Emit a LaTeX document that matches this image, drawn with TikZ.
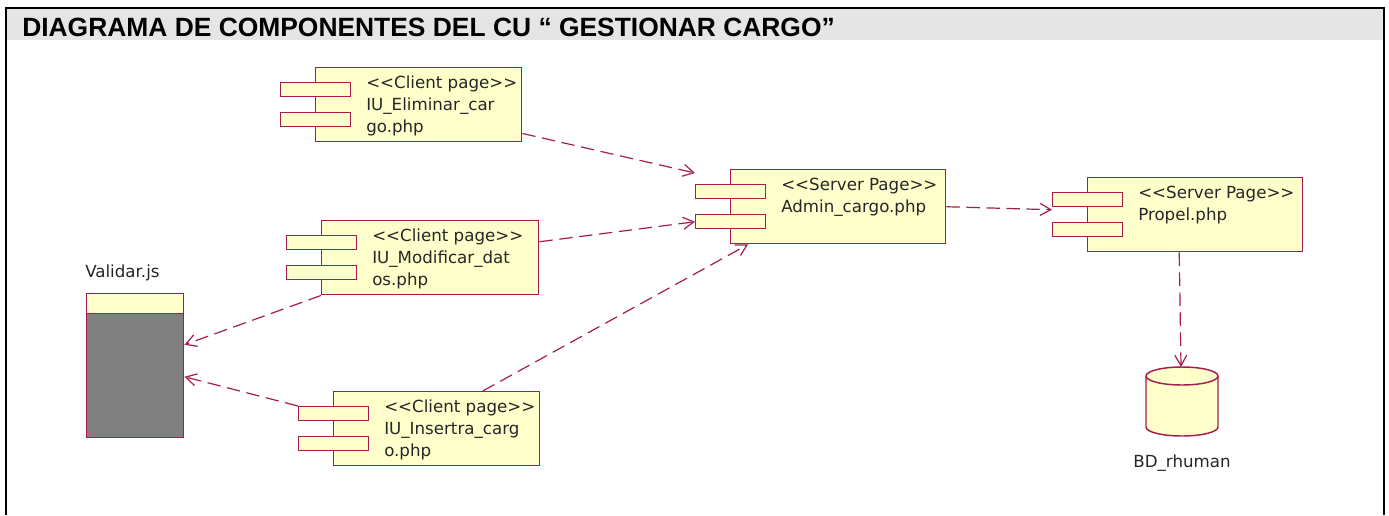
\documentclass[tikz,border=0pt]{standalone}
\usepackage{fontspec}
\setmainfont{Liberation Sans}
\newfontfamily\umlfont{DejaVu Sans}
\usetikzlibrary{arrows.meta,calc}
\definecolor{umlred}{HTML}{A61C4E}
\definecolor{umlfill}{HTML}{FFFFCC}
\definecolor{hdrgray}{HTML}{E5E5E5}
\definecolor{jsgray}{HTML}{808080}
\newcommand\umlcomp[5]{%
  \node[mainbox, minimum width=#4*0.75pt, anchor=north west] (#1) at (#2,#3) {};
  \node[smallbox, anchor=north west] (#1-p1) at ([xshift=-26.25pt,yshift=-11.25pt]#1.north west) {};
  \node[smallbox, anchor=north west] (#1-p2) at ([xshift=-26.25pt,yshift=-33.75pt]#1.north west) {};
  \node[comptext, anchor=north west] (#1-t) at ([xshift=38.25pt,yshift=-6.75pt]#1.north west) {#5};
}
\tikzset{
  mainbox/.style={draw=umlred, fill=umlfill, line width=1.1pt, minimum height=55.5pt, inner sep=0pt},
  smallbox/.style={draw=umlred, fill=umlfill, line width=1.1pt, minimum width=52.5pt, minimum height=10.5pt, inner sep=0pt},
  comptext/.style={font=\umlfont\fontsize{12.5}{16.5}\selectfont, align=left, inner sep=0pt, text=black!85},
  dep/.style={draw=umlred, line width=0.9pt, dash pattern=on 10pt off 5pt, -{Straight Barb[length=8pt,width=9pt]}},
  frameline/.style={line width=2pt, draw=black},
}
\begin{document}
\begin{tikzpicture}[x=0.75pt, y=-0.75pt]
\useasboundingbox (0,0) rectangle (1389,515);
\fill[hdrgray] (7,9) rectangle (1383,40);
\draw[frameline] (6,515) -- (6,8) -- (1384,8) -- (1384,515);
\node[anchor=base west, inner sep=0pt, font=\bfseries\fontsize{19.8}{22}\selectfont] (title) at (22,36) {DIAGRAMA DE COMPONENTES DEL CU “ GESTIONAR CARGO”};

\umlcomp{elim}{315}{67}{206}{<<Client page>>\\IU\_Eliminar\_car\\go.php}
\umlcomp{modif}{321}{220}{217}{<<Client page>>\\IU\_Modificar\_dat\\os.php}
\umlcomp{insert}{333}{391}{206}{<<Client page>>\\IU\_Insertra\_carg\\o.php}
\umlcomp{admin}{730}{169}{215}{<<Server Page>>\\Admin\_cargo.php}
\umlcomp{propel}{1087}{177}{215}{<<Server Page>>\\Propel.php}

% Validar.js
\node[draw=umlred, fill=jsgray, line width=1.1pt, minimum width=72.75pt, minimum height=108pt, anchor=north west, inner sep=0pt] (validar) at (86,293) {};
\node[draw=umlred, fill=umlfill, line width=1.1pt, minimum width=72.75pt, minimum height=15pt, anchor=north west, inner sep=0pt] (validar-top) at (86,293) {};
\node[comptext, anchor=west] (validar-l) at (85,273) {Validar.js};

% database
\filldraw[draw=umlred, fill=umlfill, line width=1.1pt] (1146,376) -- (1146,427) arc[start angle=180, end angle=360, x radius=27pt, y radius=6.75pt] -- (1218,376) arc[start angle=0, end angle=180, x radius=27pt, y radius=6.75pt] -- cycle;
\draw[draw=umlred, line width=1.1pt] (1146,376) arc[start angle=180, end angle=360, x radius=27pt, y radius=6.75pt];
\coordinate (bd) at (1181,367);
\node[comptext] (bd-l) at (1182,463) {BD\_rhuman};

% dependencies
\draw[dep] ([yshift=6.75pt]elim.south east) -- ([yshift=8.25pt]admin-p1.north west);
\draw[dep] ([yshift=12pt]modif.east) -- (admin-p2.west);
\draw[dep] ([xshift=34.5pt]insert.north) -- ([xshift=13.5pt]admin.south west);
\draw[dep] (modif.south west) -- ([yshift=15.75pt]validar.east);
\draw[dep] (insert-p1.north west) -- ([yshift=-8.25pt]validar.east);
\draw[dep] (admin.east) -- ([yshift=-7.5pt]propel-p1.west);
\draw[dep] ([xshift=-12pt]propel.south) -- (bd);
\end{tikzpicture}
\end{document}
